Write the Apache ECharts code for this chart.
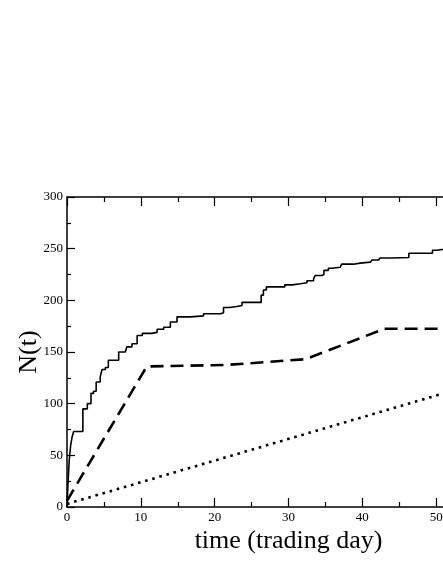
<!DOCTYPE html>
<html>
<head>
<meta charset="utf-8">
<script src="https://cdn.jsdelivr.net/npm/echarts@6/dist/echarts.min.js"></script>
<style>
  html, body { margin: 0; padding: 0; background: #fff; overflow: hidden; }
  /* the chart is wider than the window: the plot is cropped at about day 51 */
  #chart { width: 510px; height: 573px; }
</style>
</head>
<body>
<div id="chart"></div>
<script>
// step curve: time of each jump and N(t) after it
const stepTimes = [0, 0.15, 0.3, 0.5, 0.7, 0.9, 2.15, 2.75, 3.25, 3.6, 3.95, 4.5, 4.75, 5.2, 5.6,
  7.0, 7.9, 8.1, 8.8, 9.5, 10.2, 11.5, 12.2, 13.1, 14.0, 14.9, 16.7, 18.5, 20.8, 21.2, 22.0,
  23.0, 23.7, 26.3, 26.6, 27.0, 29.5, 30.5, 31.6, 32.5, 33.4, 33.6, 34.5, 34.8, 35.4, 35.9,
  37.0, 37.2, 38.8, 39.7, 41.1, 41.3, 42.2, 42.4, 44.0, 46.3, 49.5, 50.1, 51.5];
const stepCounts = [0, 25, 45, 60, 68, 73, 95, 100, 110, 112, 121, 126, 133, 135, 142,
  150, 151, 155, 158, 166, 168, 169, 172, 174, 179, 184, 185, 187, 188, 193, 194,
  195, 198, 205, 210, 213, 215, 216, 217, 219, 221, 224, 225, 229, 231, 232,
  233, 235, 236, 237, 238, 239, 240, 241, 241.5, 245.5, 248.5, 250, 250];

// dashed piecewise line
const dashTimes = [0, 10.8, 21.6, 32.3, 43, 51.5];
const dashCounts = [6, 136, 137.5, 143, 172.5, 172.5];

// dotted straight line
const dotTimes = [0, 51.5];
const dotCounts = [3, 111];

const xTicks = [0, 10, 20, 30, 40, 50, 60];
const yTicks = [0, 50, 100, 150, 200, 250, 300];

const pairs = (xs, ys) => xs.map((x, i) => [x, ys[i]]);
const serif = "Liberation Serif";

const chart = echarts.init(document.getElementById("chart"));

const tickStyle = { lineStyle: { color: "#000", width: 1.2 } };

chart.setOption({
  animation: false,
  grid: { left: 67, top: 197, right: 0, bottom: 66, containLabel: false, outerBoundsMode: "none" },
  xAxis: [
    {
      type: "value",
      min: xTicks[0],
      max: xTicks[xTicks.length - 1],
      interval: 10,
      name: "time (trading day)",
      nameLocation: "middle",
      nameGap: 21,
      nameMoveOverlap: false,
      nameTextStyle: { fontFamily: serif, fontSize: 26, color: "#000" },
      axisLine: { lineStyle: { color: "#000", width: 1.5 } },
      axisTick: { inside: true, length: 9, ...tickStyle },
      minorTick: { show: true, splitNumber: 2, length: 5, ...tickStyle },
      axisLabel: { fontFamily: serif, fontSize: 13, color: "#000", margin: 4 },
      splitLine: { show: false }
    },
    {
      type: "value",
      position: "top",
      min: xTicks[0],
      max: xTicks[xTicks.length - 1],
      interval: 10,
      axisLine: { show: true, lineStyle: { color: "#000", width: 1.5 } },
      axisTick: { show: true, inside: true, length: 9, ...tickStyle },
      minorTick: { show: true, splitNumber: 2, length: 5, ...tickStyle },
      axisLabel: { show: false },
      splitLine: { show: false }
    }
  ],
  yAxis: {
    type: "value",
    min: yTicks[0],
    max: yTicks[yTicks.length - 1],
    interval: 50,
    name: "N(t)",
    nameLocation: "middle",
    nameGap: 25,
    nameMoveOverlap: false,
    nameTextStyle: { fontFamily: serif, fontSize: 26, color: "#000" },
    axisLine: { show: true, lineStyle: { color: "#000", width: 1.5 } },
    axisTick: { show: true, inside: true, length: 8, ...tickStyle },
    minorTick: { show: true, splitNumber: 2, length: 4, ...tickStyle },
    axisLabel: { fontFamily: serif, fontSize: 13, color: "#000", margin: 4 },
    splitLine: { show: false }
  },
  series: [
    {
      type: "line",
      step: "end",
      data: pairs(stepTimes, stepCounts),
      showSymbol: false,
      lineStyle: { color: "#000", width: 1.6 }
    },
    {
      type: "line",
      data: pairs(dashTimes, dashCounts),
      showSymbol: false,
      lineStyle: { color: "#000", width: 2.6, type: [13, 7] }
    },
    {
      type: "line",
      data: pairs(dotTimes, dotCounts),
      showSymbol: false,
      lineStyle: { color: "#000", width: 2.6, type: [2.6, 4.8] }
    }
  ]
});
</script>
</body>
</html>
